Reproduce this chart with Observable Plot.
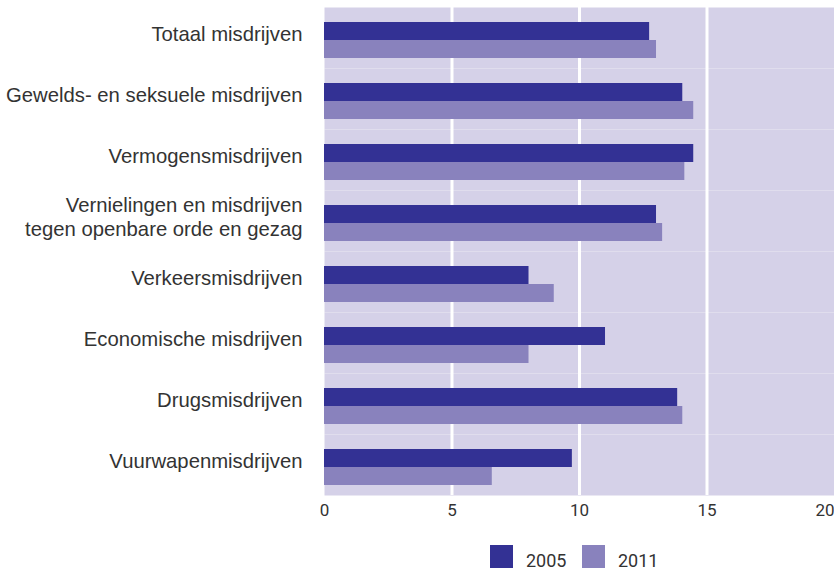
<!DOCTYPE html>
<html>
<head>
<meta charset="utf-8">
<script src="https://cdn.jsdelivr.net/npm/d3@7"></script>
<script src="https://cdn.jsdelivr.net/npm/@observablehq/plot@0.6"></script>
<style>
  body { margin: 0; background: #fff; font-family: Roboto, "Liberation Sans", sans-serif; }
  #chart svg { display: block; overflow: visible; }
  .legend { position: relative; height: 40px; font-size: 18px; color: #333; font-family: Roboto, sans-serif; }
  .legend .item { position: absolute; top: 15px; display: flex; align-items: flex-end; }
  .legend .sw { width: 23px; height: 23px; display: inline-block; }
  .legend .lab { margin-left: 13px; line-height: 18px; position: relative; top: 2px; }
</style>
</head>
<body>
<div id="chart"></div>
<div class="legend" id="legend"></div>
<script>
const categories = [
  "Totaal misdrijven",
  "Gewelds- en seksuele misdrijven",
  "Vermogensmisdrijven",
  "Vernielingen en misdrijven\ntegen openbare orde en gezag",
  "Verkeersmisdrijven",
  "Economische misdrijven",
  "Drugsmisdrijven",
  "Vuurwapenmisdrijven"
];
const years = ["2005", "2011"];
const values2005 = [12.75, 14.05, 14.48, 13.02, 8.02, 11.02, 13.85, 9.72];
const values2011 = [13.02, 14.48, 14.13, 13.26, 9.01, 8.02, 14.05, 6.58];
const xTicks = [0, 5, 10, 15];
const xLastTick = [20];
const gridValues = [5, 10, 15];
const colors = ["#333194", "#8982BD"];

const data = categories.flatMap((c, i) => [
  {cat: c, year: years[0], value: values2005[i]},
  {cat: c, year: years[1], value: values2011[i]}
]);

const chart = Plot.plot({
  width: 834,
  height: 530,
  marginLeft: 324,
  marginRight: 0,
  marginTop: 6,
  marginBottom: 35,
  style: {fontFamily: "Roboto, sans-serif", fontSize: "17px", color: "#333", background: "transparent"},
  x: {domain: [0, 20], axis: null},
  y: {domain: years, axis: null, paddingInner: 0, paddingOuter: 0.68, align: 0.6},
  fy: {domain: categories, padding: 0, axis: null},
  color: {domain: years, range: colors},
  marks: [
    Plot.frame({fill: "#D5D1E8", stroke: null}),
    Plot.ruleX(gridValues, {stroke: "white", strokeWidth: 3}),
    Plot.barX(data, {x: "value", y: "year", fy: "cat", fill: "year"}),
    Plot.axisFy({anchor: "left", label: null, tickSize: 0, tickPadding: 22, fontSize: 20.3, lineHeight: 1.2, fill: "#333", fontFamily: "'Liberation Sans', Arial, sans-serif", dy: -5}),
    Plot.axisX(xTicks, {label: null, tickSize: 0, tickPadding: 8, fontSize: 17, fill: "#333"}),
    Plot.axisX(xLastTick, {label: null, tickSize: 0, tickPadding: 8, fontSize: 17, fill: "#333", textAnchor: "end", dx: 0})
  ]
});
document.getElementById("chart").append(chart);

const legend = document.getElementById("legend");
const lefts = [490, 582];
years.forEach((y, i) => {
  const item = document.createElement("div");
  item.className = "item";
  item.style.left = lefts[i] + "px";
  item.innerHTML = `<span class="sw" style="background:${colors[i]}"></span><span class="lab">${y}</span>`;
  legend.append(item);
});
</script>
</body>
</html>
